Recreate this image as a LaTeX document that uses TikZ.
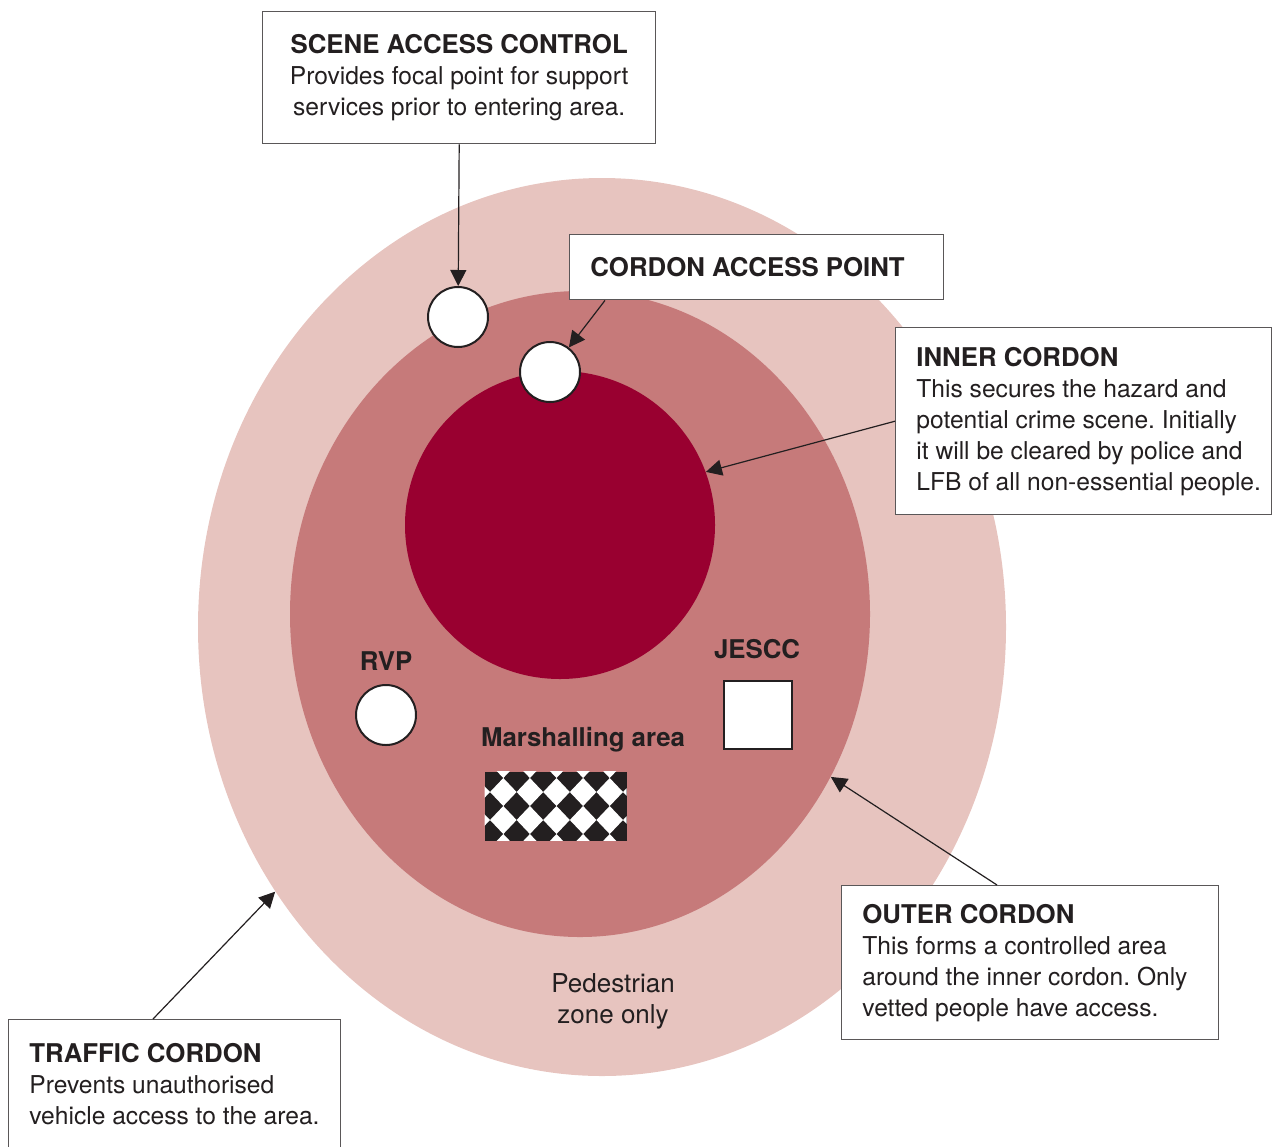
\documentclass[tikz,border=0pt]{standalone}
\usepackage{fontspec}
\setmainfont{TeX Gyre Heros}
\frenchspacing
\usetikzlibrary{shapes.geometric, positioning, arrows.meta}
\definecolor{trafficfill}{HTML}{E7C4BF}
\definecolor{outerfill}{HTML}{C67A7A}
\definecolor{innerfill}{HTML}{990030}
\definecolor{ink}{HTML}{231F20}
\newcommand{\boxtitle}[1]{{\fontsize{12.9}{15.5}\selectfont\bfseries #1}}
\tikzset{
x=0.5pt, y=-0.5pt, % one unit is one pixel of the source picture
every node/.style={font=\fontsize{12.3}{15.5}\selectfont, text=ink}, % plain text
zone/.style={ellipse, inner sep=0pt}, % the three cordons
spot/.style={circle, draw=ink, line width=1pt, fill=white, minimum size=30pt, inner sep=0pt}, % white points
infobox/.style={draw=ink!75, line width=0.7pt, fill=white, inner sep=0pt, anchor=north west}, % text box frames
boxtext/.style={inner sep=0pt, align=left, anchor=west}, % text inside a frame
tag/.style={font=\bfseries\fontsize{12.9}{15.5}\selectfont, inner sep=0pt}, % bold labels
pointer/.style={draw=ink, line width=0.6pt, -{Triangle[length=8pt,width=8pt]}}, % arrows
}

\begin{document}
\begin{tikzpicture}
    \useasboundingbox (0,0) rectangle (1272,1146);
    % Cordons
    \node[zone, fill=trafficfill, minimum width=404pt, minimum height=449pt] (traffic) at (602,627) {};
    \node[zone, fill=outerfill, minimum width=290pt, minimum height=323pt] (outer) at (580,614) {};
    \node[zone, fill=innerfill, minimum width=155pt, minimum height=154pt] (inner) at (560,525) {};
    % Points inside
    \node[spot] (sac) at (458,317) {};
    \node[spot] (cap) at (550,372) {};
    \node[spot] (rvp) at (386,715) {};
    \node[draw=ink, line width=1pt, fill=white, minimum size=34pt, inner sep=0pt] (jescc) at (758,714.5) {};
    \node[draw=ink, line width=0.5pt, fill=ink, minimum width=70.5pt, minimum height=34pt, inner sep=0pt] (marsh) at (555.5,806) {};
    \begin{scope}
      \clip (marsh.south west) rectangle (marsh.north east);
      \foreach \i in {-1,...,5}
        \foreach \j in {-1,...,2}
          \fill[white] (503.3+26.6*\i,792+28*\j) +(-13.3,0) -- +(0,-14) -- +(13.3,0) -- +(0,14) -- cycle;
    \end{scope}
    \node[tag] (rvplabel) at (386,661) {RVP};
    \node[tag] (jescclabel) at (757,649) {JESCC};
    \node[tag] (marshlabel) at (583,740) {Marshalling area};
    \node[align=center, font=\fontsize{13}{15.5}\selectfont] (ped) at (613,1001) {Pedestrian\\zone only};
    % Text boxes
    \node[infobox, minimum width=196.5pt, minimum height=66pt] (sacbox) at (262,11) {};
    \node[boxtext, align=center, anchor=center] (sactext) at (sacbox.center)
      {\boxtitle{SCENE ACCESS CONTROL}\\Provides focal point for support\\services prior to entering area.};
    \node[infobox, minimum width=187pt, minimum height=32.5pt] (capbox) at (569,234) {};
    \node[boxtext] (captext) at ([xshift=10.5pt]capbox.west) {\boxtitle{CORDON ACCESS POINT}};
    \node[infobox, minimum width=188pt, minimum height=93.5pt] (icbox) at (895,327) {};
    \node[boxtext] (ictext) at ([xshift=10.5pt]icbox.west)
      {\boxtitle{INNER CORDON}\\This secures the hazard and\\potential crime scene. Initially\\it will be cleared by police and\\LFB of all non-essential people.};
    \node[infobox, minimum width=188.5pt, minimum height=77pt] (ocbox) at (841,885) {};
    \node[boxtext] (octext) at ([xshift=10.5pt]ocbox.west)
      {\boxtitle{OUTER CORDON}\\This forms a controlled area\\around the inner cordon. Only\\vetted people have access.};
    \node[infobox, minimum width=166pt, minimum height=64pt] (tcbox) at (8,1019) {};
    \node[boxtext] (tctext) at ([xshift=10.5pt]tcbox.west)
      {\boxtitle{TRAFFIC CORDON}\\Prevents unauthorised\\vehicle access to the area.};
    % Arrows
    \draw[pointer] (sacbox.south) -- (sac);
    \draw[pointer] ([xshift=18pt]capbox.south west) -- (cap);
    \draw[pointer] (icbox.west) -- (inner.20.6);
    \draw[pointer] ([xshift=78pt]ocbox.north west) -- (outer.-33.8);
    \draw[pointer] ([xshift=72.5pt]tcbox.north west) -- (traffic.-141.9);
\end{tikzpicture}
\end{document}
